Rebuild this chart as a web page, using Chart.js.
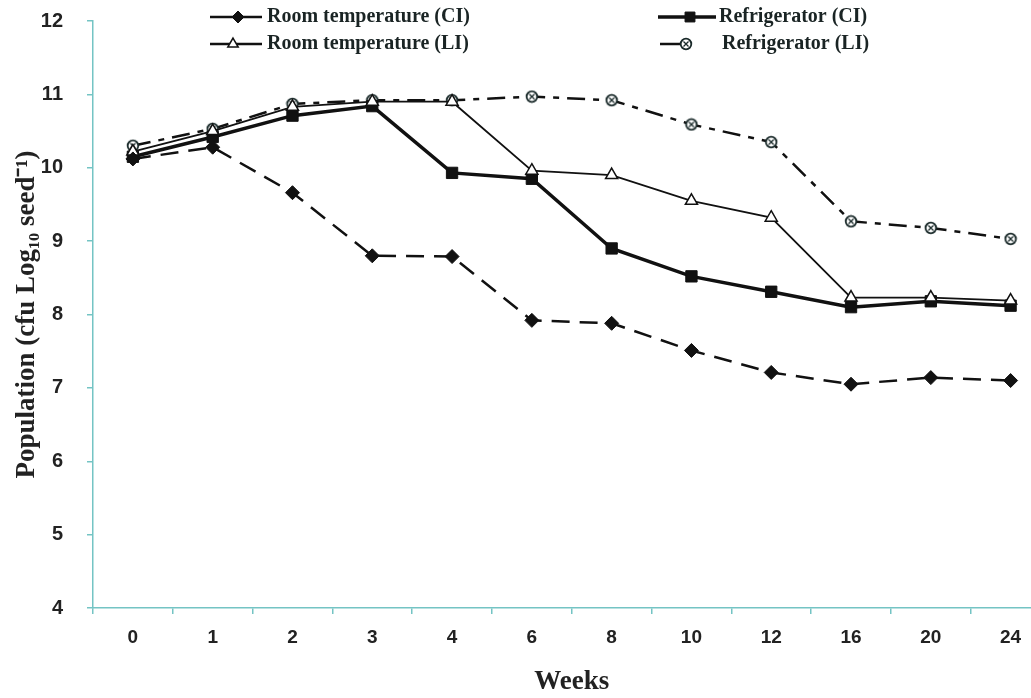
<!DOCTYPE html>
<html>
<head>
<meta charset="utf-8">
<script src="https://cdn.jsdelivr.net/npm/chart.js@4/dist/chart.umd.min.js"></script>
<style>
  html, body { margin: 0; padding: 0; background: #fff; overflow: hidden; }
  #wrap { width: 1060px; height: 713px; margin-top: -15px; }
</style>
</head>
<body>
<div id="wrap"><canvas id="c"></canvas></div>
<script>
const weeks = ['0', '1', '2', '3', '4', '6', '8', '10', '12', '16', '20', '24'];
const roomCI = [10.12, 10.28, 9.66, 8.80, 8.79, 7.92, 7.88, 7.51, 7.21, 7.05, 7.14, 7.10];
const fridgeCI = [10.15, 10.42, 10.71, 10.84, 9.93, 9.85, 8.90, 8.52, 8.31, 8.10, 8.18, 8.12];
const roomLI = [10.22, 10.50, 10.83, 10.90, 10.90, 9.96, 9.90, 9.55, 9.32, 8.23, 8.23, 8.19];
const fridgeLI = [10.30, 10.53, 10.87, 10.92, 10.92, 10.97, 10.92, 10.59, 10.35, 9.27, 9.18, 9.03];
const yTicks = [4, 5, 6, 7, 8, 9, 10, 11, 12];

const axisColor = '#74c4c4';
const ink = '#111';
const shift = 15; // canvas is moved up by this much

// circle with a cross inside, used for Refrigerator (LI)
function makeCrossCircle() {
  const cv = document.createElement('canvas');
  cv.width = 14; cv.height = 14;
  const g = cv.getContext('2d');
  g.fillStyle = '#fff';
  g.strokeStyle = '#1a2a2a';
  g.lineWidth = 1.8;
  g.beginPath(); g.arc(7, 7, 5.3, 0, Math.PI * 2); g.fill(); g.stroke();
  g.lineWidth = 1.3;
  g.beginPath();
  g.moveTo(4.5, 4.5); g.lineTo(9.5, 9.5);
  g.moveTo(9.5, 4.5); g.lineTo(4.5, 9.5);
  g.stroke();
  return cv;
}
const crossCircle = makeCrossCircle();

const datasets = [
  {
    label: 'Room temperature (CI)', data: roomCI,
    borderColor: ink, backgroundColor: ink, borderWidth: 2.5, borderDash: [18, 10],
    pointStyle: 'rectRot', pointRadius: 7, pointBackgroundColor: ink, pointBorderColor: ink, pointBorderWidth: 1
  },
  {
    label: 'Room temperature (LI)', data: roomLI,
    borderColor: ink, backgroundColor: '#fff', borderWidth: 1.8,
    pointStyle: 'triangle', pointRadius: 7, pointBackgroundColor: '#fff', pointBorderColor: ink, pointBorderWidth: 1.5
  },
  {
    label: 'Refrigerator (CI)', data: fridgeCI,
    borderColor: ink, backgroundColor: ink, borderWidth: 3.5,
    pointStyle: 'rect', pointRadius: 8, pointBackgroundColor: ink, pointBorderColor: ink, pointBorderWidth: 1
  },
  {
    label: 'Refrigerator (LI)', data: fridgeLI,
    borderColor: ink, backgroundColor: '#fff', borderWidth: 2.5, borderDash: [18, 8, 6, 8],
    pointStyle: crossCircle, pointRadius: 7
  }
];

// legend in two columns at the top, drawn by hand (page coordinates)
const legendItems = [
  { ds: 0, x1: 210, x2: 262, mx: 238, y: 17, tx: 267 },
  { ds: 1, x1: 210, x2: 262, mx: 233, y: 44, tx: 267 },
  { ds: 2, x1: 658, x2: 716, mx: 690, y: 17, tx: 719 },
  { ds: 3, x1: 660, x2: 686, mx: 686, y: 44, tx: 722 }
];

const legendPlugin = {
  id: 'sideLegend',
  afterDraw: chart => {
    const ctx = chart.ctx;
    ctx.save();
    legendItems.forEach(it => {
      const ds = chart.data.datasets[it.ds];
      const y = it.y + shift;
      ctx.strokeStyle = ink;
      ctx.lineWidth = Math.max(ds.borderWidth, 2.5);
      ctx.setLineDash([]);
      ctx.beginPath();
      ctx.moveTo(it.x1, y);
      ctx.lineTo(it.x2, y);
      ctx.stroke();
      ctx.fillStyle = ds.pointBackgroundColor || '#fff';
      ctx.strokeStyle = ds.pointBorderColor || ink;
      ctx.lineWidth = ds.pointBorderWidth || 1;
      Chart.helpers.drawPoint(ctx, {
        pointStyle: ds.pointStyle, radius: ds.pointRadius - 1, rotation: 0, borderWidth: ds.pointBorderWidth || 1
      }, it.mx, y);
      ctx.fillStyle = '#1a2424';
      ctx.font = 'bold 20px "Liberation Serif", serif';
      ctx.textBaseline = 'middle';
      ctx.textAlign = 'left';
      ctx.fillText(ds.label, it.tx, y);
    });
    ctx.restore();
  }
};

new Chart(document.getElementById('c'), {
  type: 'line',
  data: { labels: weeks, datasets: datasets },
  options: {
    responsive: true,
    maintainAspectRatio: false,
    animation: false,
    layout: { padding: { left: 0, top: 5, right: 7, bottom: 0 } },
    plugins: { legend: { display: false }, tooltip: { enabled: false } },
    elements: { line: { tension: 0, fill: false } },
    scales: {
      x: {
        type: 'category',
        offset: true,
        afterFit: s => { s.height = 90; },
        grid: { offset: true, drawOnChartArea: false, color: axisColor, tickLength: 6, lineWidth: 1.5 },
        border: { color: axisColor, width: 1.5 },
        ticks: { color: '#222', padding: 12, maxRotation: 0, font: { family: '"Liberation Sans", Arial, sans-serif', size: 19, weight: 'bold' } },
        title: { display: true, text: 'Weeks', color: '#222', padding: { top: 0, bottom: 0 }, font: { family: '"Liberation Serif", serif', size: 27, weight: 'bold' } }
      },
      y: {
        min: 4, max: 12,
        afterFit: s => { s.width = 93; },
        afterBuildTicks: s => { s.ticks = yTicks.map(v => ({ value: v })); },
        grid: { drawOnChartArea: false, color: axisColor, tickLength: 6, lineWidth: 1.5 },
        border: { color: axisColor, width: 1.5 },
        ticks: { color: '#222', padding: 24, font: { family: '"Liberation Sans", Arial, sans-serif', size: 20, weight: 'bold' } },
        title: { display: true, text: 'Population (cfu Log\u2081\u2080 seed\u207B\u00B9)', color: '#222', padding: { top: 11, bottom: 0 }, font: { family: '"Liberation Serif", serif', size: 27, weight: 'bold' } }
      }
    }
  },
  plugins: [legendPlugin]
});
</script>
</body>
</html>
